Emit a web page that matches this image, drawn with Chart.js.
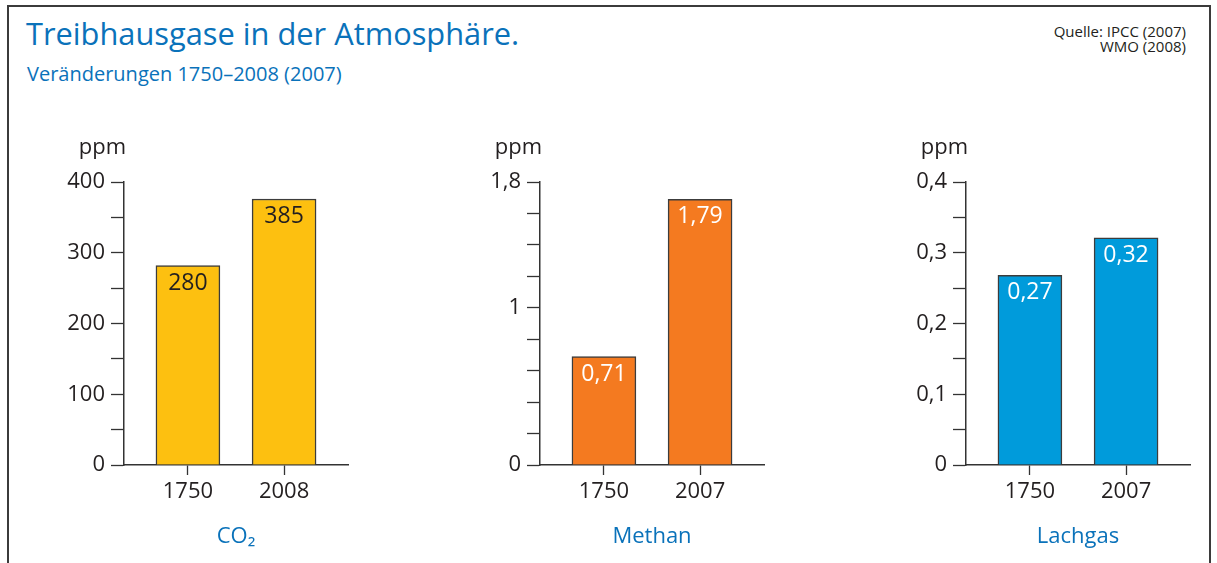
<!DOCTYPE html>
<html>
<head>
<meta charset="utf-8">
<script src="https://cdn.jsdelivr.net/npm/chart.js@4.4.1/dist/chart.umd.min.js"></script>
<style>
  body { margin: 0; width: 1217px; height: 563px; overflow: hidden; background: #fff; font-family: "Open Sans", sans-serif; }
  #frame { position: absolute; left: 7px; top: 5px; width: 1200px; height: 640px; border: 2px solid #3b3b3b; }
  #title { position: absolute; left: 26px; top: 18px; font-size: 30.8px; line-height: 1; color: #0a72ba; white-space: nowrap; }
  #subtitle { position: absolute; left: 27px; top: 64px; font-size: 20px; line-height: 1; color: #0a72ba; white-space: nowrap; }
  #source { position: absolute; right: 31px; top: 24px; font-size: 15px; line-height: 14.5px; color: #231f20; text-align: right; }
  .panel { position: absolute; top: 120px; width: 330px; height: 443px; }
</style>
</head>
<body>
<div id="frame"></div>
<div id="title">Treibhausgase in der Atmosphäre.</div>
<div id="subtitle">Veränderungen 1750–2008 (2007)</div>
<div id="source">Quelle: IPCC (2007)<br>WMO (2008)</div>
<div class="panel" style="left:40px"><canvas id="co2Chart"></canvas></div>
<div class="panel" style="left:456px"><canvas id="methanChart"></canvas></div>
<div class="panel" style="left:882px"><canvas id="lachgasChart"></canvas></div>

<script>
// CO2
const co2Years = ["1750", "2008"];
const co2Values = [282, 376];
const co2Labels = ["280", "385"];
const co2TickLabels = [0, 100, 200, 300, 400];
const co2Step = 50;
const co2Max = 400;

// Methan
const methanYears = ["1750", "2007"];
const methanValues = [0.69, 1.69];
const methanLabels = ["0,71", "1,79"];
const methanTickLabels = [0, 1, 1.8];
const methanStep = 0.2;
const methanMax = 1.8;

// Lachgas
const lachgasYears = ["1750", "2007"];
const lachgasValues = [0.268, 0.321];
const lachgasLabels = ["0,27", "0,32"];
const lachgasTickLabels = [0, 0.1, 0.2, 0.3, 0.4];
const lachgasStep = 0.05;
const lachgasMax = 0.4;

const dark = "#231f20";
const lineColor = "#333333";
const blue = "#0a72ba";

Chart.defaults.font.family = "'Open Sans', sans-serif";
Chart.defaults.color = dark;

function formatNumber(v) {
  return String(Math.round(v * 100) / 100).replace(".", ",");
}

const barLabelPlugin = {
  id: "barLabels",
  afterDatasetsDraw(chart) {
    const ctx = chart.ctx;
    const opts = chart.options.plugins.barLabels;
    const meta = chart.getDatasetMeta(0);
    ctx.save();
    ctx.font = "23px 'Open Sans', sans-serif";
    ctx.fillStyle = opts.color;
    ctx.textAlign = "center";
    ctx.textBaseline = "top";
    meta.data.forEach(function (bar, i) {
      ctx.fillText(opts.labels[i], bar.x, bar.y + 6);
    });
    // unit above the y axis
    ctx.fillStyle = dark;
    ctx.textAlign = "right";
    ctx.textBaseline = "alphabetic";
    ctx.font = "22px 'Open Sans', sans-serif";
    ctx.fillText("ppm", chart.chartArea.left + 2, chart.chartArea.top - 28);
    ctx.restore();
  }
};

function createChart(id, years, values, labels, tickLabels, step, max, color, labelColor, gasName) {
  const ctx = document.getElementById(id).getContext("2d");
  const points = values.map(function (v, i) {
    return { x: i + 1, y: v };
  });

  return new Chart(ctx, {
    type: "bar",
    data: {
      datasets: [
        {
          data: points,
          backgroundColor: color,
          borderColor: "#3c3c3c",
          borderWidth: 1.5,
          barThickness: 64
        }
      ]
    },
    plugins: [barLabelPlugin],
    options: {
      responsive: true,
      maintainAspectRatio: false,
      animation: false,
      layout: { padding: { top: 62, right: 22, bottom: 0, left: 0 } },
      plugins: {
        legend: { display: false },
        tooltip: { enabled: false },
        barLabels: { labels: labels, color: labelColor }
      },
      scales: {
        x: {
          type: "linear",
          offset: false,
          min: 1 - 0.665,
          max: 2 + 0.665,
          afterBuildTicks: function (scale) {
            scale.ticks = years.map(function (y, i) {
              return { value: i + 1 };
            });
          },
          afterFit: function (scale) {
            scale.height = 98;
          },
          grid: { offset: false, drawOnChartArea: false, drawTicks: true, tickLength: 10, tickColor: lineColor, tickWidth: 1.3 },
          border: { display: true, color: lineColor, width: 1.5 },
          ticks: {
            padding: 4,
            font: { size: 22 },
            color: dark,
            autoSkip: false,
            maxRotation: 0,
            callback: function (value, index) {
              return years[index];
            }
          },
          title: {
            display: true,
            text: gasName,
            color: blue,
            font: { size: 22 },
            padding: { top: 0, bottom: 13 }
          }
        },
        y: {
          min: 0,
          max: max,
          afterFit: function (scale) {
            scale.width = 84;
          },
          grid: { drawOnChartArea: false, drawTicks: true, tickLength: 13, tickColor: lineColor, tickWidth: 1.3 },
          border: { display: true, color: lineColor, width: 1.5 },
          ticks: {
            stepSize: step,
            padding: 6,
            font: { size: 22 },
            color: dark,
            autoSkip: false,
            callback: function (value) {
              const labelled = tickLabels.some(function (t) {
                return Math.abs(t - value) < 1e-9;
              });
              return labelled ? formatNumber(value) : "";
            }
          }
        }
      }
    }
  });
}

createChart("co2Chart", co2Years, co2Values, co2Labels, co2TickLabels, co2Step, co2Max, "#fdc010", dark, "CO₂");
createChart("methanChart", methanYears, methanValues, methanLabels, methanTickLabels, methanStep, methanMax, "#f47a20", "#ffffff", "Methan");
createChart("lachgasChart", lachgasYears, lachgasValues, lachgasLabels, lachgasTickLabels, lachgasStep, lachgasMax, "#009bdb", "#ffffff", "Lachgas");
</script>
</body>
</html>
